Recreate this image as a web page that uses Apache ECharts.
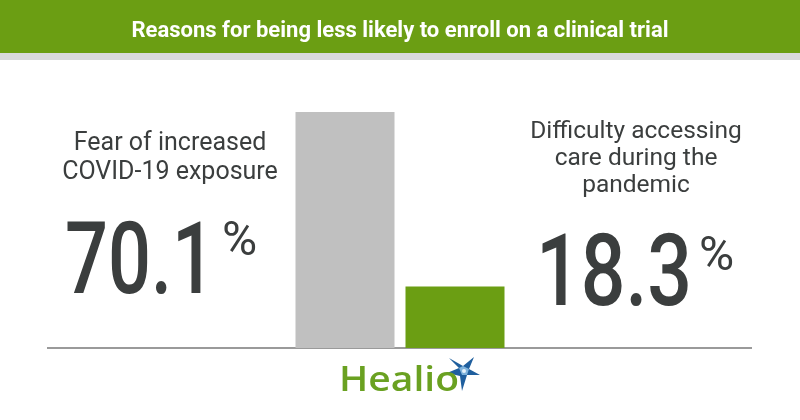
<!DOCTYPE html>
<html><head><meta charset="utf-8">
<script src="https://cdn.jsdelivr.net/npm/echarts@6/dist/echarts.min.js"></script>
<style>html,body{margin:0;padding:0;background:#fff}#c{width:800px;height:420px}</style>
</head><body><div id="c"></div>
<script>
const titleText = 'Reasons for being less likely to enroll on a clinical trial';
const categories = ['Fear of increased\nCOVID-19 exposure', 'Difficulty accessing\ncare during the\npandemic'];
const values = [70.1, 18.3];
const barColors = ['#c0c0c0', '#6b9e13'];

const green = '#6b9e13';
const dark = '#3b3e3e';
const font = 'Roboto, "Noto Sans", sans-serif';

const mctx = document.createElement('canvas').getContext('2d');
function fitScale(text, fontStr, target) {
  mctx.font = fontStr;
  return target / mctx.measureText(text).width;
}

function build() {
  const titleFont = 'bold 22px ' + font;
  const bigFont = '500 100px ' + font;
  const logoFont = '600 34px "Open Sans", sans-serif';
  const t0 = values[0].toFixed(1), t1 = values[1].toFixed(1);
  const sT = fitScale(titleText, titleFont, 537);
  const s0 = fitScale(t0, bigFont, 150);
  const s1 = fitScale(t1, bigFont, 156);
  const sL = fitScale('Healio', logoFont, 120);
  const chart = echarts.init(document.getElementById('c'), null, {renderer: 'canvas'});
  chart.setOption({
    backgroundColor: '#fff',
    animation: false,
    grid: {left: 290, width: 220, top: 112, bottom: 72},
    xAxis: {type: 'category', data: categories, axisLine: {show: false}, axisTick: {show: false}, axisLabel: {show: false}},
    yAxis: {type: 'value', min: 0, max: 70.1, show: false, splitLine: {show: false}},
    series: [{
      type: 'bar', barWidth: 99,
      data: values.map((v, i) => ({value: v, itemStyle: {color: barColors[i]}}))
    }],
    graphic: [
      {type: 'rect', z: -1, shape: {x: 0, y: 0, width: 800, height: 53}, style: {fill: green}},
      {type: 'rect', z: -1, shape: {x: 0, y: 53, width: 800, height: 7}, style: {fill: '#d9dadc'}},
      {type: 'text', x: 400, y: 31, scaleX: sT, style: {text: titleText, font: titleFont, fill: '#fff', align: 'center', verticalAlign: 'middle'}},
      {type: 'line', shape: {x1: 47, y1: 348, x2: 752, y2: 348}, style: {stroke: '#9a9a9a', lineWidth: 2}},
      {type: 'text', x: 170, y: 158, style: {text: categories[0], font: '25px ' + font, fill: dark, align: 'center', verticalAlign: 'middle', lineHeight: 29}},
      {type: 'text', x: 636, y: 159, style: {text: categories[1], font: '24.5px ' + font, fill: dark, align: 'center', verticalAlign: 'middle', lineHeight: 27}},
      {type: 'text', x: 65, y: 268, scaleX: s0, style: {text: t0, font: bigFont, fill: dark, align: 'left', verticalAlign: 'middle'}},
      {type: 'text', x: 222, y: 243, style: {text: '%', font: '48px ' + font, fill: dark, align: 'left', verticalAlign: 'middle'}},
      {type: 'text', x: 536, y: 280, scaleX: s1, style: {text: t1, font: bigFont, fill: dark, align: 'left', verticalAlign: 'middle'}},
      {type: 'text', x: 699, y: 258, style: {text: '%', font: '48px ' + font, fill: dark, align: 'left', verticalAlign: 'middle'}},
      {type: 'polygon', z: 1, shape: {points: [[449,358],[463,366],[474,357],[469,369],[480,375],[467,375],[462,391],[460,376],[447,373],[459,368]]}, style: {fill: '#1f5f9e'}},
      {type: 'polygon', z: 1, shape: {points: [[463,366],[469,369],[467,375],[462,375],[459,368]]}, style: {fill: '#7fb3dc'}},
      {type: 'circle', z: 1, shape: {cx: 464, cy: 371, r: 2}, style: {fill: '#e6f2fb'}},
      {type: 'text', z: 2, x: 339, y: 381, scaleX: sL, style: {text: 'Healio', font: logoFont, fill: '#6aa121', align: 'left', verticalAlign: 'middle'}}
    ]
  });
}
if (document.fonts && document.fonts.load) {
  Promise.all([document.fonts.load('bold 22px Roboto'), document.fonts.load('500 100px Roboto'), document.fonts.load('600 34px "Open Sans"')]).then(build, build);
} else build();
</script></body></html>
